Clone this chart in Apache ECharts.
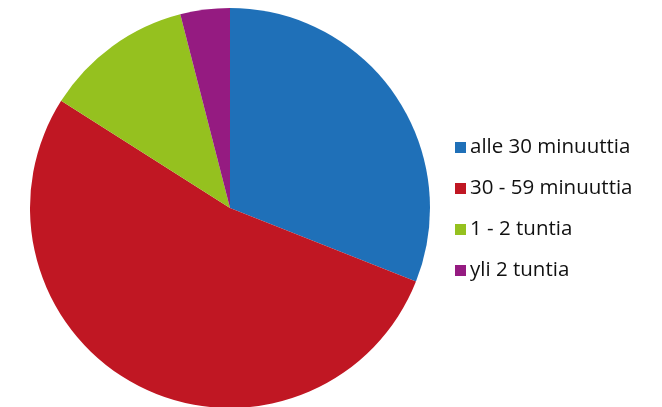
<!DOCTYPE html>
<html><head><meta charset="utf-8">
<script src="https://cdn.jsdelivr.net/npm/echarts@6/dist/echarts.min.js"></script>
<style>html,body{margin:0;padding:0;background:#fff}#c{width:662px;height:407px}</style>
</head><body><div id="c"></div>
<script>
const categories = ['alle 30 minuuttia', '30 - 59 minuuttia', '1 - 2 tuntia', 'yli 2 tuntia'];
const values = [31, 53, 12, 4];
const colors = ['#1f70b8', '#c01723', '#95c11f', '#951b81'];

const chart = echarts.init(document.getElementById('c'), null, {renderer: 'canvas'});
chart.setOption({
  animation: false,
  color: colors,
  legend: {
    orient: 'vertical',
    left: 455,
    top: 137,
    padding: 0,
    itemWidth: 11,
    itemHeight: 11,
    itemGap: 20,
    icon: 'rect',
    textStyle: {fontFamily: 'Open Sans', fontSize: 20.5, lineHeight: 20, color: '#111', padding: [0,0,0,-1]},
    data: categories
  },
  series: [{
    type: 'pie',
    center: [230, 208],
    radius: 200,
    startAngle: 90,
    clockwise: true,
    label: {show: false},
    labelLine: {show: false},
    itemStyle: {borderWidth: 0},
    emphasis: {disabled: true},
    data: categories.map((n, i) => ({name: n, value: values[i]}))
  }]
});
</script></body></html>
